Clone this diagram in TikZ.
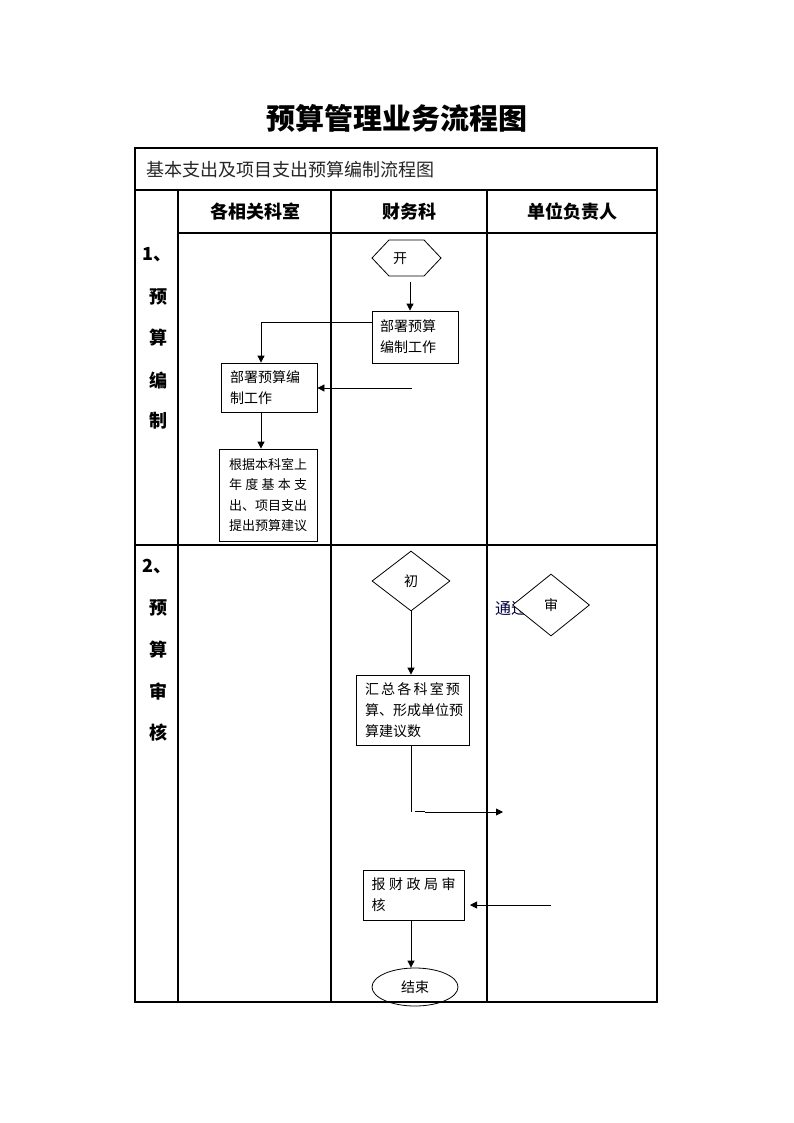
\documentclass[tikz,border=0pt]{standalone}
\usepackage{fontspec}
\setmainfont{Noto Sans CJK SC}
\usetikzlibrary{shapes.geometric,arrows.meta}
\begin{document}
\begin{tikzpicture}[x=1pt,y=-1pt,
  frame/.style={line width=1.1pt},
  box/.style={draw,line width=0.8pt,inner sep=0pt,font=\fontsize{14}{21}\selectfont},
  arr/.style={line width=0.8pt,-{Triangle[length=7pt,width=7pt]}},
  ln/.style={line width=0.8pt},
  hdr/.style={font=\fontsize{18}{20}\selectfont\bfseries},
  lane/.style={font=\fontsize{18}{20}\selectfont\bfseries},
  txt/.style={font=\fontsize{14}{16}\selectfont}]
\useasboundingbox (0,0) rectangle (794,1123);
\fill[white] (0,0) rectangle (794,1123);
% title
\node[font=\fontsize{29}{32}\selectfont\bfseries] (title) at (397,118) {预算管理业务流程图};
% table
\draw[frame] (135,148) rectangle (657,1002);
\draw[frame] (135,190) -- (657,190);
\draw[frame] (178,233) -- (657,233);
\draw[frame] (135,545) -- (657,545);
\draw[frame] (178,190) -- (178,1002);
\draw[frame] (331,190) -- (331,1002);
\draw[frame] (487,190) -- (487,1002);
\node[anchor=west,font=\fontsize{18}{20}\selectfont,text=black!85] (sub) at (143,170) {基本支出及项目支出预算编制流程图};
\node[hdr] (h1) at (255,212) {各相关科室};
\node[hdr] (h2) at (409,212) {财务科};
\node[hdr] (h3) at (572,212) {单位负责人};
% lane labels
\node[lane] (s1a) at (157,255) {1、};
\node[lane] (s1b) at (158,297) {预};
\node[lane] (s1c) at (158,338) {算};
\node[lane] (s1d) at (158,380) {编};
\node[lane] (s1e) at (158,421) {制};
\node[lane] (s2a) at (157,567) {2、};
\node[lane] (s2b) at (158,608) {预};
\node[lane] (s2c) at (158,650) {算};
\node[lane] (s2d) at (158,692) {审};
\node[lane] (s2e) at (158,733) {核};
% section 1
\node[txt] (hex) at (400,259) {开};
\draw[ln] (372,258) -- (389,240) -- (424,240) -- (441,258) -- (424,276) -- (389,276) -- cycle;
\node[box,minimum width=86pt,minimum height=52pt,text width=70pt,align=left] (b1) at (415,337) {部署预算\\编制工作};
\node[box,minimum width=96pt,minimum height=49pt,text width=78pt,align=left] (b2) at (269,387.5) {部署预算编\\制工作};
\node[box,minimum width=98pt,minimum height=92pt,text width=78pt,align=left,font=\fontsize{13}{20.5}\selectfont] (b3) at (268,495)
  {\makebox[78pt][s]{根\hfill 据\hfill 本\hfill 科\hfill 室\hfill 上}\\
   \makebox[78pt][s]{年\hfill 度\hfill 基\hfill 本\hfill 支}\\
   \makebox[78pt][s]{出\hfill 、\hfill 项\hfill 目\hfill 支\hfill 出}\\
   \makebox[78pt][s]{提\hfill 出\hfill 预\hfill 算\hfill 建\hfill 议}};
\coordinate (c1) at (410,282);
\draw[arr] (c1) -- (b1.north -| c1);
\coordinate (c2) at (261,322);
\draw[arr] (b1.west |- c2) -- (c2) -- (b2.north -| c2);
\coordinate (c3) at (412,388);
\draw[arr] (c3) -- (b2.east |- c3);
\coordinate (c4) at (261,412);
\draw[arr] (b2.south -| c4) -- (b3.north -| c4);
% section 2
\node[font=\fontsize{16}{18}\selectfont,text=black!75!blue] (pass) at (511,608) {通过};
\node[draw,diamond,aspect=1.3,minimum width=78pt,minimum height=60pt,inner sep=0pt,line width=0.8pt,txt] (d1) at (411,581) {初};
\node[draw,diamond,fill=white,aspect=1.25,minimum width=77pt,minimum height=62pt,inner sep=0pt,line width=0.8pt,txt] (d2) at (551,605) {审};
\node[box,minimum width=113pt,minimum height=70pt,text width=95pt,align=left] (b4) at (412.5,710)
  {\makebox[95pt][s]{汇\hfill 总\hfill 各\hfill 科\hfill 室\hfill 预}\\算、形成单位预\\算建议数};
\node[box,minimum width=101pt,minimum height=50pt,text width=84pt,align=left] (b5) at (413.5,895)
  {\makebox[84pt][s]{报\hfill 财\hfill 政\hfill 局\hfill 审}\\核};
\node[draw,ellipse,minimum width=86pt,minimum height=38pt,inner sep=0pt,line width=0.8pt,txt] (end) at (415,987) {结束};
\coordinate (c5) at (411,611);
\draw[arr] (d1.south) -- (b4.north -| c5);
\coordinate (c6) at (411,812);
\draw[ln] (b4.south -| c6) -- (c6);
\coordinate (c7) at (415,811);
\coordinate (c8) at (425,811);
\draw[ln] (c7) -- (c8);
\coordinate (c9) at (425,812);
\coordinate (c10) at (503,812);
\draw[arr] (c9) -- (c10);
\coordinate (c11) at (551,905);
\coordinate (c12) at (470,905);
\draw[arr] (c11) -- (c12);
\coordinate (c13) at (411,920);
\draw[arr] (b5.south -| c13) -- (end.north -| c13);
\end{tikzpicture}
\end{document}
